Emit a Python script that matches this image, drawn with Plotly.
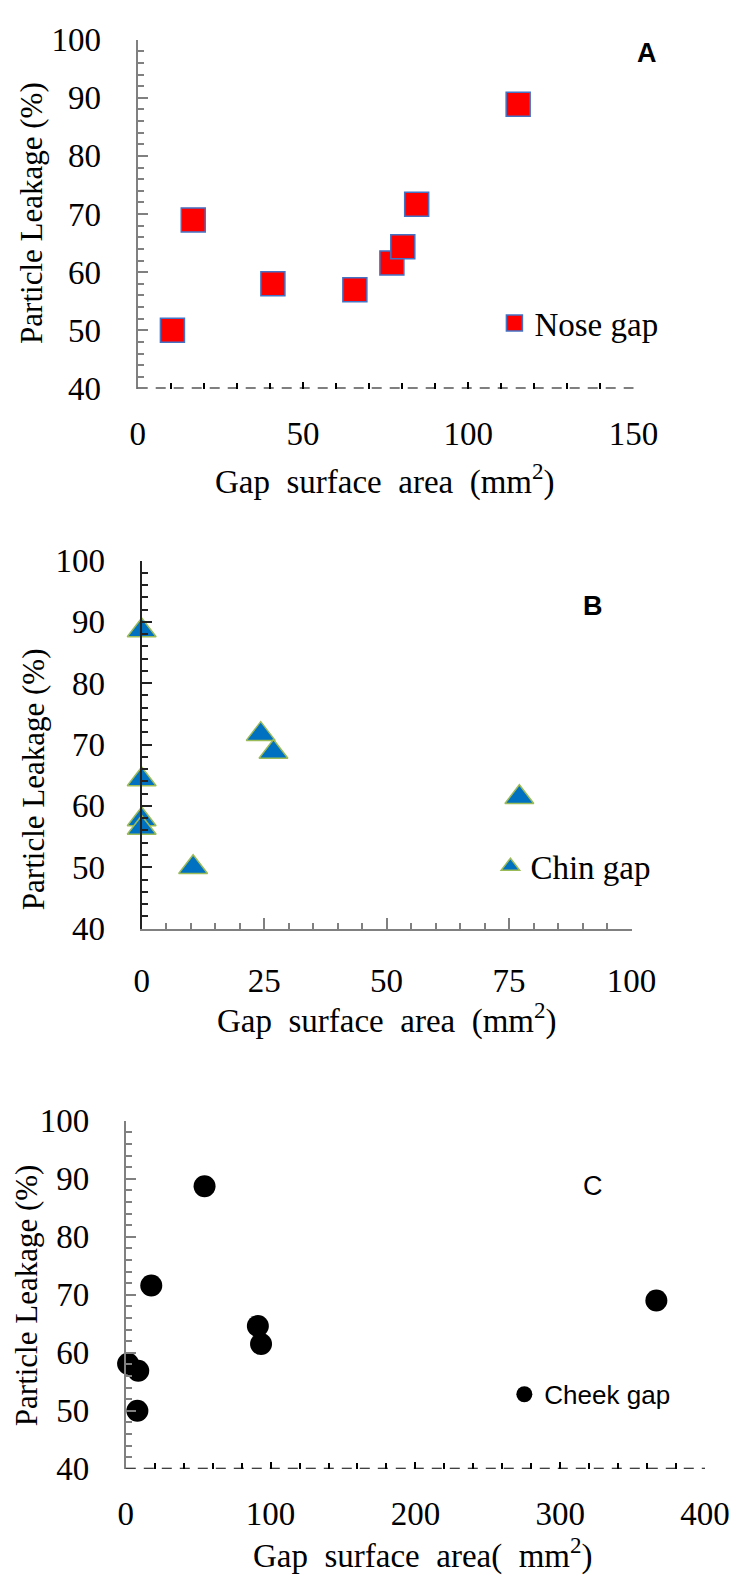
import plotly.graph_objects as go

# ---------------- data ----------------
nose_area = [10.5, 16.8, 40.9, 65.7, 76.9, 80.2, 84.4, 115.1]
nose_leak = [50.0, 69.0, 58.0, 57.0, 61.6, 64.4, 71.7, 88.9]

chin_area = [0.0, 0.0, 0.0, 0.0, 10.5, 24.3, 26.9, 77.1]
chin_leak = [88.6, 64.3, 57.8, 56.4, 50.0, 71.7, 68.8, 61.4]

cheek_area = [1.6, 8.6, 8.0, 17.6, 54.4, 91.2, 93.4, 366.4]
cheek_leak = [58.1, 56.9, 50.0, 71.6, 88.7, 64.6, 61.5, 69.0]

y_range = [40, 100]
x_range_a = [0, 150]
x_range_b = [0, 100]
x_range_c = [0, 400]

W, H = 747, 1576
SERIF = "Liberation Serif"
SANS = "Liberation Sans"


def px(x):
    v = ((x - 15.5) / 0.962) / W
    return min(max(v, 0.0), 1.0)


def py(y):
    v = 1 - ((y - 25.6) / 0.9715) / H
    return min(max(v, 0.0), 1.0)


fig = go.Figure()

fig.add_trace(go.Scatter(
    x=nose_area, y=nose_leak, mode="markers", name="Nose gap",
    marker=dict(symbol="square", size=24, color="#FF0000",
                line=dict(color="#4472C4", width=1.5)),
    cliponaxis=False, xaxis="x", yaxis="y", legend="legend"))

fig.add_trace(go.Scatter(
    x=chin_area, y=chin_leak, mode="markers", name="Chin gap",
    marker=dict(symbol="triangle-up", size=25, color="#0070C0",
                line=dict(color="#9BBB59", width=1.5)),
    cliponaxis=False, xaxis="x2", yaxis="y2", legend="legend2"))

fig.add_trace(go.Scatter(
    x=cheek_area, y=cheek_leak, mode="markers", name="Cheek gap",
    marker=dict(symbol="circle", size=22, color="#000000",
                line=dict(color="#000000", width=0)),
    cliponaxis=False, xaxis="x3", yaxis="y3", legend="legend3"))

tickfont = dict(family=SERIF, size=33, color="#000000")
grey = "#808080"


def yaxis_cfg(domain, anchor, linecolor):
    return dict(domain=domain, anchor=anchor, range=y_range, dtick=10, tick0=40,
                showgrid=False, zeroline=False, showline=True,
                linecolor=linecolor, linewidth=2,
                ticks="inside", ticklen=10, tickwidth=2, tickcolor=linecolor,
                minor=dict(dtick=2, ticks="inside", ticklen=6, tickwidth=2,
                           tickcolor=linecolor, showgrid=False),
                tickfont=tickfont, ticklabelstandoff=28, fixedrange=True)


def xaxis_cfg(domain, anchor, rng, dtick, mdtick, showline, linecolor, tickcolor, majlen):
    return dict(domain=domain, anchor=anchor, range=rng, dtick=dtick, tick0=0,
                showgrid=False, zeroline=False, showline=showline,
                linecolor=linecolor, linewidth=2,
                ticks="inside", ticklen=majlen, tickwidth=2, tickcolor=tickcolor,
                minor=dict(dtick=mdtick, ticks="inside", ticklen=6, tickwidth=2,
                           tickcolor=tickcolor, showgrid=False),
                tickfont=tickfont, ticklabelstandoff=22, fixedrange=True)


fig.update_layout(
    width=W, height=H,
    margin=dict(l=0, r=0, t=0, b=0),
    paper_bgcolor="white", plot_bgcolor="white",
    xaxis=xaxis_cfg([px(138), px(637)], "y", x_range_a, 50, 10, False, "#000", "#000", 7),
    yaxis=yaxis_cfg([py(387), 1 - 15 / H], "x", grey),
    xaxis2=xaxis_cfg([px(142), px(635)], "y2", x_range_b, 25, 5, True, grey, grey, 11),
    yaxis2=yaxis_cfg([py(924), py(558)], "x2", "#222222"),
    xaxis3=xaxis_cfg([px(126), 0.965], "y3", x_range_c, 100, 20, False, "#000", "#000", 7),
    yaxis3=yaxis_cfg([py(1461), py(1115)], "x3", grey),
    legend=dict(x=px(497), y=py(322), xanchor="left", yanchor="middle",
                bgcolor="rgba(0,0,0,0)", font=dict(family=SERIF, size=33, color="#000")),
    legend2=dict(x=px(493), y=py(862), xanchor="left", yanchor="middle",
                 bgcolor="rgba(0,0,0,0)", font=dict(family=SERIF, size=33, color="#000")),
    legend3=dict(x=px(507), y=py(1387), xanchor="left", yanchor="middle",
                 bgcolor="rgba(0,0,0,0)", font=dict(family=SANS, size=26, color="#000")),
    showlegend=True,
)

# dashed x-axis lines (panels A and C)
for xr, yr in (("x domain", "y"), ("x3 domain", "y3")):
    fig.add_shape(type="line", xref=xr, yref=yr, x0=0, x1=1, y0=40, y1=40,
                  line=dict(color="#000000", width=2, dash="10px,8px"), layer="above")

ytitlefont = dict(family=SERIF, size=31, color="#000000")
xtitlefont = dict(family=SERIF, size=33, color="#000000")
annos = [
    # y titles
    dict(text="Particle Leakage (%)", x=px(31), y=py(212), textangle=-90, font=ytitlefont),
    dict(text="Particle Leakage (%)", x=px(33), y=py(775), textangle=-90, font=ytitlefont),
    dict(text="Particle Leakage (%)", x=px(26), y=py(1288), textangle=-90, font=ytitlefont),
    # x titles
    dict(text="Gap  surface  area  (mm<sup>2</sup>)", x=px(387), y=py(477), font=xtitlefont),
    dict(text="Gap  surface  area  (mm<sup>2</sup>)", x=px(389), y=py(1013), font=xtitlefont),
    dict(text="Gap  surface  area(  mm<sup>2</sup>)", x=px(425), y=py(1545), font=xtitlefont),
]
for a in annos:
    fig.add_annotation(xref="paper", yref="paper", xanchor="center", yanchor="middle",
                       showarrow=False, **a)

for txt, x, y, bold in (("A", 651, 53, True), ("B", 596, 603, True), ("C", 596, 1180, False)):
    fig.add_annotation(xref="paper", yref="paper", x=px(x), y=py(y), text=f"<b>{txt}</b>" if bold else txt,
                       showarrow=False, xanchor="center", yanchor="middle",
                       font=dict(family=SANS, size=27, color="#000"))

fig.write_html("out.html")
